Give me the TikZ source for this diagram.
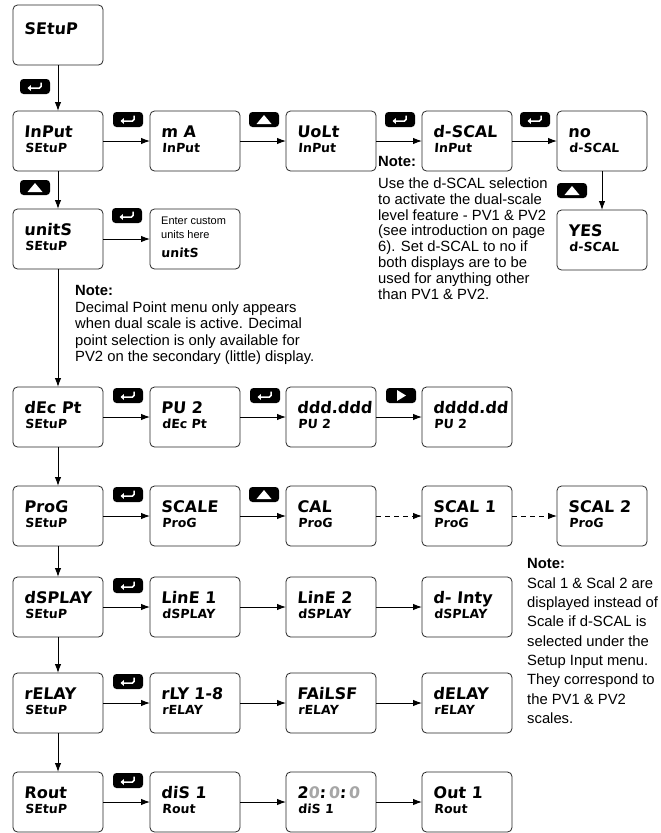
\documentclass[tikz,border=0pt]{standalone}
\usepackage{fontspec}
\setmainfont{Liberation Sans}
\newfontfamily\led{DejaVu Sans}[FakeSlant=0.08]
\newfontfamily\nfont{Liberation Sans}
\usetikzlibrary{calc,arrows.meta}
\newcommand\dbox[5]{%
  \node[box] (#1) at (#2+45,#3+30) {};
  \node[ledA] (#1-a) at ($(#1.north west)+(11,26)$) {#4};
  \node[ledB] (#1-b) at ($(#1.north west)+(12,41)$) {#5};}
\newcommand\benter[3]{%
  \node[btn] (#1) at (#2+15,#3+7.5) {};
  \draw[white, line width=1.5pt, -{Triangle[length=3.4pt,width=5.6pt]}, rounded corners=1.5pt]
    ($(#1.center)+(6,-4)$) -- ($(#1.center)+(6,1.5)$) -- ($(#1.center)+(-7.5,1.5)$);}
\newcommand\bup[3]{%
  \node[btn] (#1) at (#2+15,#3+7.5) {};
  \fill[white] ($(#1.center)+(-7.5,4.5)$) -- ($(#1.center)+(7.5,4.5)$) -- ($(#1.center)+(0,-4.5)$) -- cycle;}
\newcommand\bright[3]{%
  \node[btn] (#1) at (#2+15,#3+7.5) {};
  \fill[white] ($(#1.center)+(-4,-5.5)$) -- ($(#1.center)+(-4,5.5)$) -- ($(#1.center)+(5,0)$) -- cycle;}
\begin{document}
\begin{tikzpicture}[x=1pt,y=-1pt,
  box/.style={draw=black!85, line width=0.8pt, rounded corners=4.5pt, minimum width=90pt, minimum height=60pt, inner sep=0pt, outer sep=0pt},
  ledA/.style={anchor=base west, inner sep=0pt, font=\led\bfseries\fontsize{16}{16}\selectfont},
  ledB/.style={anchor=base west, inner sep=0pt, font=\led\bfseries\fontsize{12.5}{12.5}\selectfont},
  btn/.style={fill=black, rounded corners=3.5pt, minimum width=30pt, minimum height=15pt, inner sep=0pt},
  arr/.style={line width=1pt, -{Latex[length=9pt,width=6.5pt]}},
  note/.style={anchor=north west, inner sep=0pt, align=left, font=\nfont\fontsize{14.8}{15.8}\selectfont},
  notehead/.style={anchor=base west, inner sep=0pt, font=\nfont\bfseries\fontsize{14.8}{16}\selectfont},
  small/.style={anchor=base west, inner sep=0pt, font=\nfont\fontsize{11}{13}\selectfont},
]
\useasboundingbox (0,0) rectangle (661,833);

% top box
\node[box] (top) at (58,35) {};
\node[ledA] (top-a) at ($(top.north west)+(11,29)$) {SEtuP};

% row 1
\dbox{inp}{13}{111}{InPut}{SEtuP}
\dbox{ma}{150}{111}{m A}{InPut}
\dbox{volt}{286}{111}{UoLt}{InPut}
\dbox{dscal}{422}{111}{d-SCAL}{InPut}
\dbox{no}{557}{111}{no}{d-SCAL}
\dbox{yes}{557}{210}{YES}{d-SCAL}

% row 2
\dbox{units}{13}{209}{unitS}{SEtuP}
\node[box] (cust) at (195,239) {};
\node[small] (cust-a) at ($(cust.north west)+(11,15)$) {Enter custom};
\node[small] (cust-b) at ($(cust.north west)+(11,29)$) {units here};
\node[ledB] (cust-c) at ($(cust.north west)+(11,48)$) {unitS};

% row 3
\dbox{dec}{13}{387}{dEc Pt}{SEtuP}
\dbox{pv}{150}{387}{PU 2}{dEc Pt}
\dbox{d3}{286}{387}{ddd.ddd}{PU 2}
\dbox{d4}{422}{387}{dddd.dd}{PU 2}

% row 4
\dbox{prog}{13}{486}{ProG}{SEtuP}
\dbox{scale}{150}{486}{SCALE}{ProG}
\dbox{cal}{286}{486}{CAL}{ProG}
\dbox{scA}{422}{486}{SCAL 1}{ProG}
\dbox{scB}{557}{486}{SCAL 2}{ProG}

% row 5
\dbox{disp}{13}{577}{dSPLAY}{SEtuP}
\dbox{lineA}{150}{577}{LinE 1}{dSPLAY}
\dbox{lineB}{286}{577}{LinE 2}{dSPLAY}
\dbox{dint}{422}{577}{d- Inty}{dSPLAY}

% row 6
\dbox{rel}{13}{673}{rELAY}{SEtuP}
\dbox{rly}{150}{673}{rLY 1-8}{rELAY}
\dbox{fail}{286}{673}{FAiLSF}{rELAY}
\dbox{dly}{422}{673}{dELAY}{rELAY}

% row 7
\dbox{aout}{13}{772}{Rout}{SEtuP}
\dbox{dis}{150}{772}{diS 1}{Rout}
\dbox{val}{286}{772}{2\textcolor{gray!70}{0}:\,\textcolor{gray!70}{0}:\,\textcolor{gray!70}{0}}{diS 1}
\dbox{out}{422}{772}{Out 1}{Rout}

% vertical spine
\draw[arr] (top.south) -- (inp.north);
\draw[arr] (inp.south) -- (units.north);
\draw[arr] (units.south) -- (dec.north);
\draw[arr] (dec.south) -- (prog.north);
\draw[arr] (prog.south) -- (disp.north);
\draw[arr] (disp.south) -- (rel.north);
\draw[arr] (rel.south) -- (aout.north);
\draw[arr] (no.south) -- (yes.north);

% horizontal arrows
\draw[arr] (inp.east) -- (ma.west);
\draw[arr] (ma.east) -- (volt.west);
\draw[arr] (volt.east) -- (dscal.west);
\draw[arr] (dscal.east) -- (no.west);
\draw[arr] (units.east) -- (cust.west);
\draw[arr] (dec.east) -- (pv.west);
\draw[arr] (pv.east) -- (d3.west);
\draw[arr] (d3.east) -- (d4.west);
\draw[arr] (prog.east) -- (scale.west);
\draw[arr] (scale.east) -- (cal.west);
\draw[arr, dashed, dash pattern=on 5pt off 4pt] (cal.east) -- (scA.west);
\draw[arr, dashed, dash pattern=on 5pt off 4pt] (scA.east) -- (scB.west);
\draw[arr] (disp.east) -- (lineA.west);
\draw[arr] (lineA.east) -- (lineB.west);
\draw[arr] (lineB.east) -- (dint.west);
\draw[arr] (rel.east) -- (rly.west);
\draw[arr] (rly.east) -- (fail.west);
\draw[arr] (fail.east) -- (dly.west);
\draw[arr] (aout.east) -- (dis.west);
\draw[arr] (dis.east) -- (val.west);
\draw[arr] (val.east) -- (out.west);

% buttons
\benter{b1}{20}{79}
\bup{b2}{20}{180}
\benter{b3}{113}{112}
\bup{b4}{249}{112}
\benter{b5}{385}{112}
\benter{b6}{520}{112}
\bup{b7}{557}{183}
\benter{b8}{112}{208}
\benter{b9}{113}{388}
\benter{b10}{250}{388}
\bright{b11}{386}{388}
\benter{b12}{113}{487}
\bup{b13}{249}{487}
\benter{b14}{113}{578}
\benter{b15}{113}{674}
\benter{b16}{113}{773}

% notes
\node[notehead] (n1h) at (378,166) {Note:};
\node[note] (n1) at (378,177.6) {Use the d-SCAL selection\\to activate the dual-scale\\level feature - PV1 \& PV2\\(see introduction on page\\6). Set d-SCAL to no if\\both displays are to be\\used for anything other\\than PV1 \& PV2.};
\node[notehead] (n2h) at (75,295) {Note:};
\node[note, font=\nfont\fontsize{14.8}{16.3}\selectfont] (n2) at (75,301.6) {Decimal Point menu only appears\\when dual scale is active. Decimal\\point selection is only available for\\PV2 on the secondary (little) display.};
\node[notehead] (n3h) at (527,568) {Note:};
\node[note, font=\nfont\fontsize{14.8}{19.3}\selectfont] (n3) at (527,577.3) {Scal 1 \& Scal 2 are\\displayed instead of\\Scale if d-SCAL is\\selected under the\\Setup Input menu.\\They correspond to\\the PV1 \& PV2\\scales.};
\end{tikzpicture}
\end{document}
